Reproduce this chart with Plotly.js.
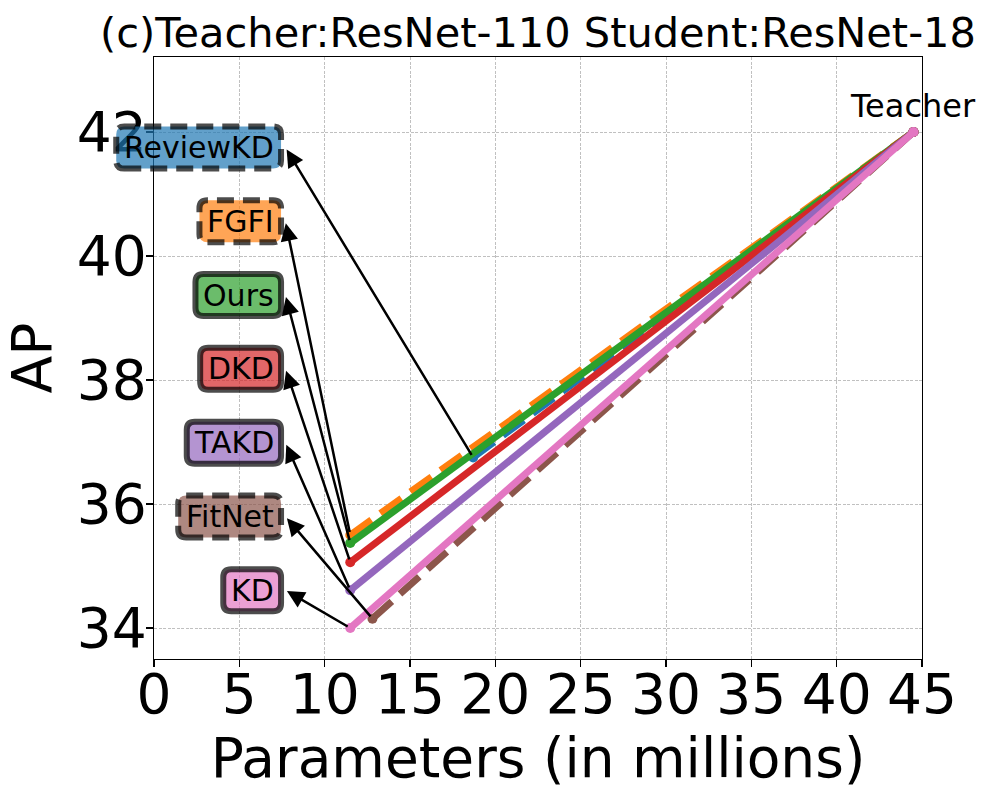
<!DOCTYPE html>
<html>
<head>
<meta charset="utf-8">
<script src="https://cdn.plot.ly/plotly-3.0.1.min.js"></script>
<style>
  body { margin: 0; background: #fff; }
  #chart { width: 997px; height: 797px; }
</style>
</head>
<body>
<div id="chart"></div>
<script>
// data
const methods = ["ReviewKD", "FGFI", "Ours", "DKD", "TAKD", "FitNet", "KD"];
const studentParams = [18.7, 11.5, 11.5, 11.5, 11.5, 12.8, 11.5];
const studentAP = [36.75, 35.5, 35.37, 35.06, 34.61, 34.15, 34.0];
const teacherParams = 44.5;
const teacherAP = 42.0;
const colors = ["#1f77b4", "#ff7f0e", "#2ca02c", "#d62728", "#9467bd", "#8c564b", "#e377c2"];
const dashed = [true, true, false, false, false, true, false];
const labelY = [41.75, 40.56, 39.37, 38.18, 36.99, 35.80, 34.61];
const labelRight = 7.62;
const xTicks = [0, 5, 10, 15, 20, 25, 30, 35, 40, 45];
const yTicks = [34, 36, 38, 40, 42];

const xRange = [0, 45];
const yRange = [33.5, 43.21];
const FONT = "DejaVu Sans";
const labelSize = 30;

function toPaperX(v) { return (v - xRange[0]) / (xRange[1] - xRange[0]); }
function toPaperY(v) { return (v - yRange[0]) / (yRange[1] - yRange[0]); }

function rgba(hex, a) {
    const n = parseInt(hex.slice(1), 16);
    return `rgba(${(n >> 16) & 255},${(n >> 8) & 255},${n & 255},${a})`;
}

const ctx = document.createElement("canvas").getContext("2d");
ctx.font = `${labelSize}px "${FONT}"`;

function roundBox(x0, x1, y0, y1, r) {
    return `M${x0 + r},${y0} H${x1 - r} Q${x1},${y0} ${x1},${y0 + r} V${y1 - r} Q${x1},${y1} ${x1 - r},${y1} ` +
        `H${x0 + r} Q${x0},${y1} ${x0},${y1 - r} V${y0 + r} Q${x0},${y0} ${x0 + r},${y0} Z`;
}

const traces = methods.map((m, i) => ({
    x: [studentParams[i], teacherParams],
    y: [studentAP[i], teacherAP],
    mode: "lines+markers",
    name: m,
    line: { color: colors[i], width: 7, dash: dashed[i] ? "26px,11px" : "solid" },
    marker: { color: colors[i], size: 10 },
    showlegend: false,
    hoverinfo: "skip",
}));

const shapes = [];
const annotations = [];

methods.forEach((m, i) => {
    const w = ctx.measureText(m).width;
    // label box (rounded, thick translucent border)
    shapes.push({
        type: "path",
        xref: "paper", yref: "paper",
        xsizemode: "pixel", ysizemode: "pixel",
        xanchor: toPaperX(labelRight), yanchor: toPaperY(labelY[i]),
        path: roundBox(-(w + 18), -3, -21, 21, 8),
        fillcolor: rgba(colors[i], 0.7),
        line: { color: "rgba(0,0,0,0.7)", width: 6, dash: dashed[i] ? "17px,9px" : "solid" },
        layer: "above",
    });
    annotations.push({
        x: labelRight, y: labelY[i], xref: "x", yref: "y",
        xanchor: "right", yanchor: "middle", xshift: -8.5,
        text: m, showarrow: false,
        font: { family: FONT, size: labelSize, color: "#000" },
    });
    // arrow from the student point to the label
    annotations.push({
        x: studentParams[i], y: studentAP[i], xref: "x", yref: "y",
        ax: labelRight + 0.08, ay: labelY[i], axref: "x", ayref: "y",
        text: " ", font: { size: 1 },
        showarrow: true, arrowside: "start",
        startarrowhead: 2, startarrowsize: 1.4,
        arrowwidth: 2.5, arrowcolor: "#000",
        standoff: 3, startstandoff: 0,
    });
});

annotations.push({
    x: teacherParams, y: teacherAP, xref: "x", yref: "y",
    xanchor: "center", yanchor: "bottom", yshift: 5,
    text: "Teacher", showarrow: false,
    font: { family: FONT, size: 32, color: "#000" },
});

const axisCommon = {
    showline: true, mirror: true, linecolor: "#000", linewidth: 1.2,
    ticks: "outside", ticklen: 7, tickwidth: 1.2, tickcolor: "#000",
    showgrid: true, gridcolor: "#b0b0b0", gridwidth: 0.8, griddash: "3px,1.5px",
    zeroline: false,
    tickfont: { family: FONT, size: 55, color: "#000" },
    tickmode: "array",
};

const layout = {
    width: 997, height: 797,
    margin: { l: 154, r: 75, t: 57, b: 138 },
    paper_bgcolor: "#fff", plot_bgcolor: "#fff",
    font: { family: FONT, color: "#000" },
    title: {
        text: "(c)Teacher:ResNet-110 Student:ResNet-18",
        font: { family: FONT, size: 41.5, color: "#000" },
        x: 0.5, xref: "paper", xanchor: "center",
        y: 1 - 32 / 797, yref: "container", yanchor: "middle",
    },
    xaxis: Object.assign({}, axisCommon, {
        range: xRange, tickvals: xTicks, ticktext: xTicks.map(String), tickangle: 0,
        ticklabelstandoff: -20,
        title: { text: "Parameters (in millions)", font: { family: FONT, size: 55, color: "#000" }, standoff: 8 },
    }),
    yaxis: Object.assign({}, axisCommon, {
        range: yRange, tickvals: yTicks, ticktext: yTicks.map(String),
        ticklabelstandoff: -12,
        title: { text: "AP", font: { family: FONT, size: 55, color: "#000" }, standoff: 20 },
    }),
    shapes: shapes,
    annotations: annotations,
};

Plotly.newPlot("chart", traces, layout, { displayModeBar: false, staticPlot: true });
</script>
</body>
</html>
